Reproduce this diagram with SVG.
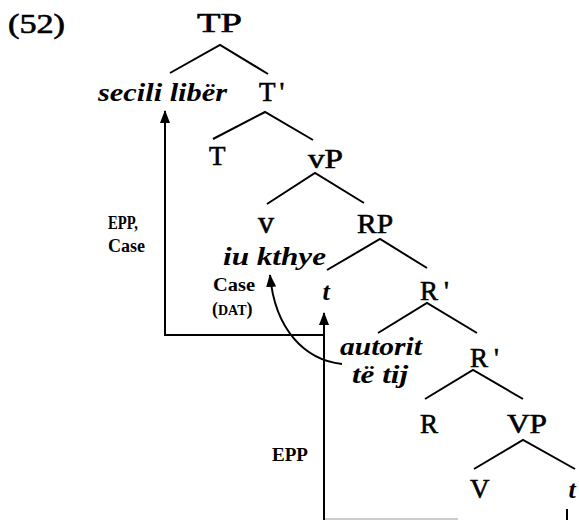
<svg xmlns="http://www.w3.org/2000/svg" width="579" height="520" viewBox="0 0 579 520">
<style>
text{font-family:"Liberation Serif","Times New Roman",serif;fill:#000}
.n{font-size:27px;stroke:#000;stroke-width:0.6px}
.i{font-size:26px;font-style:italic;font-weight:bold}
.s{font-size:18px;font-weight:bold}
.e{stroke:#000;stroke-width:2;fill:none}
.a{stroke:#000;stroke-width:2;fill:none}
</style>
<defs>
<marker id="ah" markerWidth="13" markerHeight="10" refX="12" refY="5" orient="auto" markerUnits="userSpaceOnUse" viewBox="0 0 13 10">
<path d="M0,0 L13,5 L0,10 Z" fill="#000"/>
</marker>
</defs>
<rect width="579" height="520" fill="#fff"/>
<text class="n" x="8" y="33" textLength="57" lengthAdjust="spacingAndGlyphs">(52)</text>
<g id="edges">
<path class="e" d="M170,73 L220,45 L268,74"/>
<path class="e" d="M213,139 L265,112 L313,140"/>
<path class="e" d="M267,204 L315,173 L364,203"/>
<path class="e" d="M327,270 L380,239 L427,268"/>
<path class="e" d="M378,333 L427,303 L477,333"/>
<path class="e" d="M425,399 L473,370 L523,399"/>
<path class="e" d="M474,469 L523,440 L575,469"/>
</g>
<g id="TP"><text class="n" x="197" y="32" textLength="45" lengthAdjust="spacingAndGlyphs">TP</text></g>
<g id="subj"><text class="i" x="98" y="101" textLength="129" lengthAdjust="spacingAndGlyphs">secili libër</text></g>
<g id="Tbar"><text class="n" x="259" y="101">T<tspan dx="4">'</tspan></text></g>
<g id="T"><text class="n" x="209" y="165">T</text></g>
<g id="vP"><text class="n" x="308" y="168" textLength="35" lengthAdjust="spacingAndGlyphs">vP</text></g>
<g id="v"><text class="n" x="266" y="233" text-anchor="middle" style="font-size:32px">v</text>
<text class="i" x="223" y="265" textLength="103" lengthAdjust="spacingAndGlyphs">iu kthye</text></g>
<g id="RP"><text class="n" x="357" y="233" textLength="36" lengthAdjust="spacingAndGlyphs" style="font-size:28px">RP</text></g>
<g id="t1"><text class="i" x="326" y="300" text-anchor="middle">t</text></g>
<g id="Rbar1"><text class="n" x="420" y="300">R<tspan dx="6">'</tspan></text></g>
<g id="obj"><text class="i" x="340" y="355" textLength="82" lengthAdjust="spacingAndGlyphs">autorit</text>
<text class="i" x="352" y="383" textLength="56" lengthAdjust="spacingAndGlyphs">të tij</text></g>
<g id="Rbar2"><text class="n" x="470" y="367">R<tspan dx="6">'</tspan></text></g>
<g id="R"><text class="n" x="420" y="433">R</text></g>
<g id="VP"><text class="n" x="507" y="433" textLength="40" lengthAdjust="spacingAndGlyphs">VP</text></g>
<g id="V"><text class="n" x="470" y="498">V</text></g>
<g id="t2"><text class="i" x="572" y="498" text-anchor="middle">t</text></g>
<g id="labels">
<text class="s" x="108" y="229" textLength="30" lengthAdjust="spacingAndGlyphs">EPP,</text>
<text class="s" x="108" y="252" textLength="37" lengthAdjust="spacingAndGlyphs">Case</text>
<text class="s" x="213" y="291" textLength="42" lengthAdjust="spacingAndGlyphs">Case</text>
<text class="s" x="212" y="315">(<tspan style="font-size:14px">DAT</tspan>)</text>
<text class="s" x="272" y="461" textLength="36" lengthAdjust="spacingAndGlyphs">EPP</text>
</g>
<g id="connectors">
<path class="a" d="M324,521 L324,313" marker-end="url(#ah)"/>
<path class="a" d="M324,335 L165,335 L165,111" marker-end="url(#ah)"/>
<path class="a" d="M342,364 C305,360 275,330 270,275" marker-end="url(#ah)"/>
<path class="a" d="M567,509 L567,520"/>
<path d="M325,519 L458,519" stroke="#bbb" stroke-width="1.5"/>
</g>
</svg>
